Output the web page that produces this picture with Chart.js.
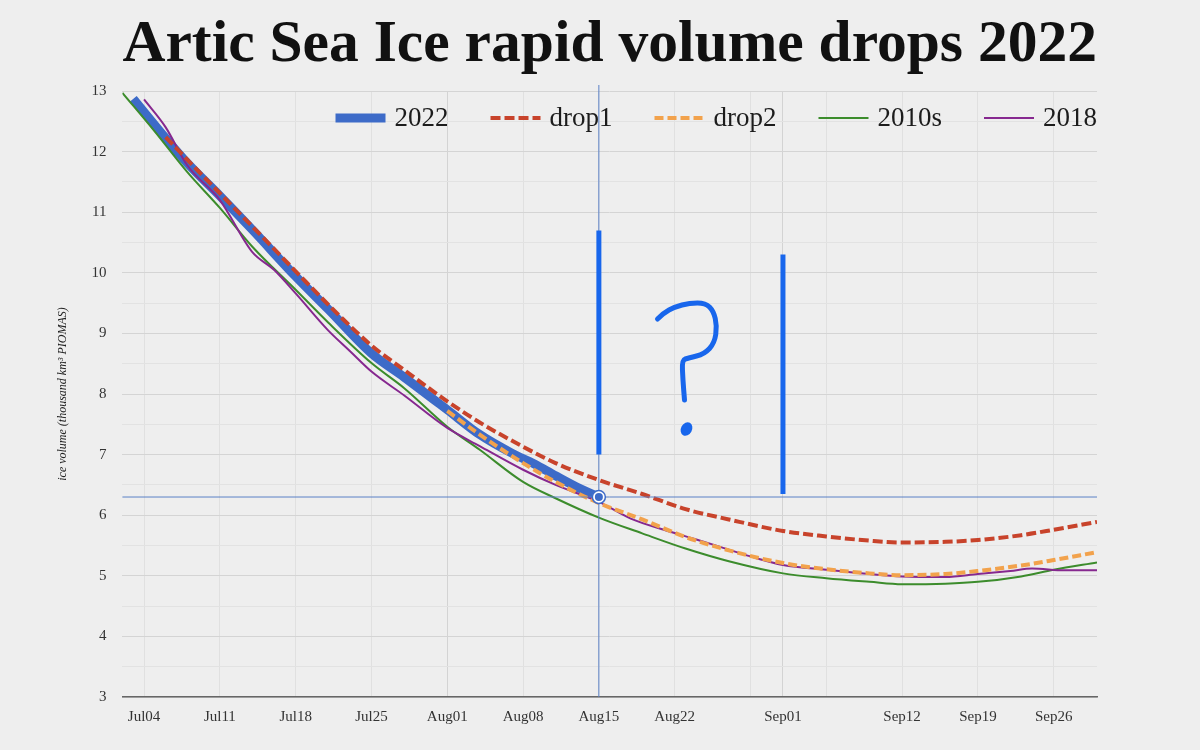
<!DOCTYPE html>
<html>
<head>
<meta charset="utf-8">
<title>Artic Sea Ice rapid volume drops 2022</title>
<script src="https://cdn.jsdelivr.net/npm/chart.js@4.4.0/dist/chart.umd.min.js"></script>
<style>
  html, body { margin: 0; padding: 0; background: #eeeeee; }
  #wrap { width: 1200px; height: 750px; position: relative; }
</style>
</head>
<body>
<div id="wrap"><canvas id="ice-chart"></canvas></div>
<script>
// x values are days counted from Jul 4 (Jul04 = 0)
var tickDays = [0, 7, 14, 21, 28, 35, 42, 49, 56, 59, 63, 70, 77, 84];
var tickLabels = ['Jul04', 'Jul11', 'Jul18', 'Jul25', 'Aug01', 'Aug08', 'Aug15', 'Aug22', '', 'Sep01', '', 'Sep12', 'Sep19', 'Sep26'];
var monthStarts = [28, 59];

var days2022 = [-1, 2, 4, 7, 10, 14, 17, 21, 24, 28, 31, 34, 36, 38, 40, 42];
var vol2022 = [12.87, 12.22, 11.81, 11.27, 10.71, 9.94, 9.40, 8.67, 8.28, 7.74, 7.33, 7.02, 6.85, 6.65, 6.46, 6.30];

var daysDrop1 = [2, 5, 8, 11, 15, 18, 21, 24, 28, 31, 35, 38, 42, 46, 50, 54, 59, 63, 67, 70, 74, 77, 81, 84, 88];
var volDrop1 = [12.24, 11.68, 11.13, 10.58, 9.84, 9.30, 8.80, 8.40, 7.88, 7.53, 7.13, 6.86, 6.58, 6.35, 6.10, 5.93, 5.74, 5.65, 5.58, 5.55, 5.56, 5.59, 5.67, 5.76, 5.89];

var daysDrop2 = [28, 31, 35, 38, 42, 46, 50, 54, 59, 63, 67, 70, 74, 77, 81, 84, 88];
var volDrop2 = [7.72, 7.33, 6.86, 6.55, 6.20, 5.93, 5.64, 5.42, 5.21, 5.11, 5.04, 5.01, 5.03, 5.08, 5.17, 5.26, 5.39];

var days2010s = [-2, 1, 4, 7, 10, 14, 17, 21, 24, 28, 31, 35, 38, 42, 46, 50, 54, 59, 63, 67, 70, 74, 77, 81, 84, 88];
var vol2010s = [12.97, 12.33, 11.66, 11.07, 10.43, 9.72, 9.18, 8.51, 8.10, 7.46, 7.08, 6.55, 6.28, 5.96, 5.70, 5.45, 5.24, 5.04, 4.96, 4.90, 4.86, 4.87, 4.90, 4.99, 5.10, 5.22];

var days2018 = [0, 2, 4, 7, 10, 12, 14, 17, 19, 21, 24, 28, 31, 35, 38, 42, 45, 48, 51, 53, 56, 59, 63, 67, 70, 74, 77, 80, 82, 85, 88];
var vol2018 = [12.86, 12.40, 11.77, 11.20, 10.34, 10.05, 9.66, 9.05, 8.71, 8.37, 7.98, 7.44, 7.14, 6.75, 6.50, 6.22, 5.94, 5.76, 5.60, 5.49, 5.32, 5.18, 5.10, 5.03, 4.99, 4.98, 5.03, 5.08, 5.12, 5.09, 5.09];

// hand drawn marks on the picture (day, from value, to value)
var markBars = [[42, 7.0, 10.7], [59, 6.35, 10.3]];

function pts(days, vals) {
    return days.map(function (d, i) { return { x: d, y: vals[i] }; });
}

var serif = '"Liberation Serif", "DejaVu Serif", serif';

var insideLegend = {
    id: 'insideLegend',
    afterDraw: function (chart) {
        var ctx = chart.ctx, area = chart.chartArea;
        var sets = chart.data.datasets;
        ctx.save();
        ctx.font = '27px ' + serif;
        ctx.textBaseline = 'middle';
        var sample = 50, gap = 9, spacing = 42;
        var widths = sets.map(function (d) { return sample + gap + ctx.measureText(d.label).width; });
        var total = widths.reduce(function (a, b) { return a + b; }, 0) + spacing * (sets.length - 1);
        var x = area.right - total;
        var y = area.top + 27;
        sets.forEach(function (ds, i) {
            ctx.beginPath();
            ctx.strokeStyle = ds.borderColor;
            ctx.lineWidth = ds.borderWidth;
            ctx.setLineDash(ds.borderDash || []);
            ctx.moveTo(x, y);
            ctx.lineTo(x + sample, y);
            ctx.stroke();
            ctx.setLineDash([]);
            ctx.fillStyle = '#1c1c1c';
            ctx.fillText(ds.label, x + sample + gap, y + 1);
            x += widths[i] + spacing;
        });
        ctx.restore();
    }
};

var scribbles = {
    id: 'scribbles',
    afterDatasetsDraw: function (chart) {
        var ctx = chart.ctx, area = chart.chartArea;
        var xs = chart.scales.x, ys = chart.scales.y;
        var hoverDay = days2022[days2022.length - 1];
        var hoverVal = vol2022[vol2022.length - 1];
        var hx = xs.getPixelForValue(hoverDay), hy = ys.getPixelForValue(hoverVal);
        ctx.save();
        // crosshair
        ctx.strokeStyle = '#5a80c6';
        ctx.lineWidth = 1;
        ctx.beginPath();
        ctx.moveTo(area.left, hy); ctx.lineTo(area.right, hy);
        ctx.moveTo(hx, area.top - 6); ctx.lineTo(hx, area.bottom);
        ctx.stroke();
        // blue bars
        ctx.strokeStyle = '#1866ec';
        ctx.lineWidth = 5;
        markBars.forEach(function (b) {
            var bx = xs.getPixelForValue(b[0]);
            ctx.beginPath();
            ctx.moveTo(bx, ys.getPixelForValue(b[1]));
            ctx.lineTo(bx, ys.getPixelForValue(b[2]));
            ctx.stroke();
        });
        // the question mark, around day 50 / 8.0
        var ox = xs.getPixelForValue(50), oy = ys.getPixelForValue(8);
        var q = [[-28, -75], [-22, -81], [-11, -87], [4, -91], [20, -91], [28, -83], [31.5, -68], [29, -51],
                 [19, -40], [3, -36], [-3.5, -34], [-2.6, -14], [-1, 6]];
        ctx.lineWidth = 5;
        ctx.lineCap = 'round';
        ctx.lineJoin = 'round';
        ctx.beginPath();
        ctx.moveTo(ox + q[0][0], oy + q[0][1]);
        for (var i = 1; i < q.length - 1; i++) {
            var mx = (q[i][0] + q[i + 1][0]) / 2, my = (q[i][1] + q[i + 1][1]) / 2;
            ctx.quadraticCurveTo(ox + q[i][0], oy + q[i][1], ox + mx, oy + my);
        }
        ctx.lineTo(ox + q[q.length - 1][0], oy + q[q.length - 1][1]);
        ctx.stroke();
        ctx.fillStyle = '#1866ec';
        ctx.beginPath();
        ctx.ellipse(ox + 1, oy + 35, 5.5, 7, 0.5, 0, Math.PI * 2);
        ctx.fill();
        // hover point
        ctx.beginPath();
        ctx.arc(hx, hy, 6.5, 0, Math.PI * 2);
        ctx.fillStyle = '#ffffff';
        ctx.fill();
        ctx.lineWidth = 1.5;
        ctx.strokeStyle = '#3d6bc8';
        ctx.stroke();
        ctx.beginPath();
        ctx.arc(hx, hy, 4, 0, Math.PI * 2);
        ctx.fillStyle = '#3d6bc8';
        ctx.fill();
        ctx.restore();
    }
};

var lineBase = { pointRadius: 0, fill: false, tension: 0.4, cubicInterpolationMode: 'monotone' };

var iceChart = new Chart(document.getElementById('ice-chart'), {
    type: 'line',
    data: {
        datasets: [
            Object.assign({ label: '2022', data: pts(days2022, vol2022), borderColor: '#3d6bc8', borderWidth: 9, order: 5 }, lineBase),
            Object.assign({ label: 'drop1', data: pts(daysDrop1, volDrop1), borderColor: '#c8432b', borderWidth: 4, borderDash: [10, 4], order: 1 }, lineBase),
            Object.assign({ label: 'drop2', data: pts(daysDrop2, volDrop2), borderColor: '#f2a24c', borderWidth: 4, borderDash: [9, 4], order: 2 }, lineBase),
            Object.assign({ label: '2010s', data: pts(days2010s, vol2010s), borderColor: '#3c8c2c', borderWidth: 2, order: 4 }, lineBase),
            Object.assign({ label: '2018', data: pts(days2018, vol2018), borderColor: '#86288f', borderWidth: 2, order: 3 }, lineBase)
        ]
    },
    options: {
        responsive: true,
        maintainAspectRatio: false,
        animation: false,
        layout: { padding: { left: 0, right: 103, top: 0, bottom: 13 } },
        plugins: {
            legend: { display: false },
            tooltip: { enabled: false },
            title: {
                display: true,
                fullSize: false,
                text: 'Artic Sea Ice rapid volume drops 2022',
                color: '#111111',
                font: { family: serif, weight: 'bold', size: 60 },
                padding: { top: 9, bottom: 10 }
            }
        },
        scales: {
            x: {
                type: 'linear',
                min: -2,
                max: 88,
                afterBuildTicks: function (scale) {
                    scale.ticks = tickDays.map(function (d) { return { value: d }; });
                },
                ticks: {
                    autoSkip: false,
                    maxRotation: 0,
                    padding: 11,
                    color: '#333333',
                    font: { family: serif, size: 15 },
                    callback: function (value) {
                        var i = tickDays.indexOf(value);
                        return i >= 0 ? tickLabels[i] : '';
                    }
                },
                grid: {
                    drawTicks: false,
                    color: function (c) {
                        return c.tick && monthStarts.indexOf(c.tick.value) >= 0 ? '#d3d3d3' : '#e0e0e0';
                    }
                },
                border: { display: true, color: '#666666', width: 1.5 }
            },
            y: {
                min: 3,
                max: 13,
                ticks: {
                    stepSize: 0.5,
                    autoSkip: false,
                    padding: 16,
                    color: '#333333',
                    font: { family: serif, size: 15 },
                    callback: function (value) { return Number.isInteger(value) ? value : ''; }
                },
                grid: {
                    drawTicks: false,
                    color: function (c) {
                        return c.tick && Number.isInteger(c.tick.value) ? '#d4d4d4' : '#e2e2e2';
                    }
                },
                border: { display: false },
                title: {
                    display: true,
                    text: 'ice volume (thousand km³ PIOMAS)',
                    color: '#222222',
                    font: { family: serif, style: 'italic', size: 12 },
                    padding: { top: 56, bottom: 5 }
                }
            }
        }
    },
    plugins: [insideLegend, scribbles]
});
</script>
</body>
</html>
